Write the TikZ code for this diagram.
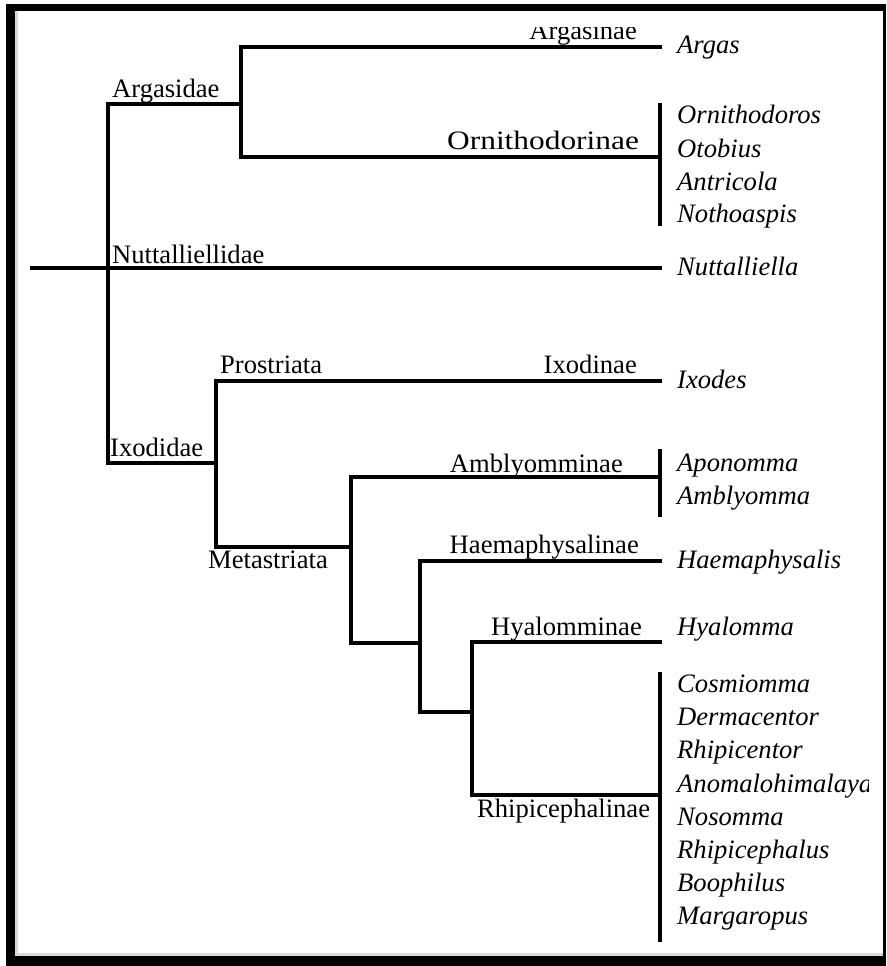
\documentclass[tikz,border=0pt]{standalone}
\usepackage{fontspec}
\setmainfont{Liberation Serif}
\begin{document}
\begin{tikzpicture}[x=1pt,y=-1pt,
  branch/.style={line width=4pt, line join=miter, line cap=rect},
  genbar/.style={line width=4pt},
  clade/.style={inner sep=0pt, font=\fontsize{26.6}{32}\selectfont},
  genus/.style={inner sep=0pt, anchor=base west, font=\fontsize{26.6}{32}\selectfont\itshape}]
\useasboundingbox (0,0) rectangle (886,966);
\fill[white] (0,0) rectangle (886,966);

% frame with a heavier shadow edge on the left and bottom
\fill[black] (6,4) rectangle (886,966);
\fill[white] (15,11) rectangle (883,956);
\fill[gray!30] (15,11) rectangle (18,956);
\fill[gray!30] (15,953) rectangle (883,956);

\begin{scope}
\clip (18,28) rectangle (868,953);

% branch points of the tree
\coordinate (root) at (32,268);
\coordinate (nutEnd) at (660,268);
\coordinate (famTop) at (108,104);
\coordinate (famBot) at (108,463);
\coordinate (argTop) at (241,47);
\coordinate (argMid) at (241,104);
\coordinate (argBot) at (241,157);
\coordinate (argasEnd) at (660,47);
\coordinate (ornEnd) at (660,157);
\coordinate (ornBarTop) at (660,103);
\coordinate (ornBarBot) at (660,226);
\coordinate (ixoTop) at (216,381);
\coordinate (ixoMid) at (216,463);
\coordinate (ixoBot) at (216,547);
\coordinate (ixodesEnd) at (660,381);
\coordinate (metTop) at (351,477);
\coordinate (metMid) at (351,547);
\coordinate (metBot) at (351,643);
\coordinate (ambEnd) at (660,477);
\coordinate (ambBarTop) at (660,449);
\coordinate (ambBarBot) at (660,517);
\coordinate (haeTop) at (420,561);
\coordinate (haeMid) at (420,643);
\coordinate (haeBot) at (420,712);
\coordinate (haeEnd) at (660,561);
\coordinate (hyaTop) at (472,642);
\coordinate (hyaMid) at (472,712);
\coordinate (hyaBot) at (472,795);
\coordinate (hyaEnd) at (660,642);
\coordinate (rhiEnd) at (660,795);
\coordinate (rhiBarTop) at (660,672);
\coordinate (rhiBarBot) at (660,942);

% branches
\draw[branch] (root) -- (nutEnd);
\draw[branch] (famTop) -- (famBot);
\draw[branch] (famTop) -- (argMid);
\draw[branch] (argasEnd) -- (argTop) -- (argBot) -- (ornEnd);
\draw[genbar] (ornBarTop) -- (ornBarBot);
\draw[branch] (famBot) -- (ixoMid);
\draw[branch] (ixodesEnd) -- (ixoTop) -- (ixoBot) -- (metMid);
\draw[branch] (ambEnd) -- (metTop) -- (metBot) -- (haeMid);
\draw[genbar] (ambBarTop) -- (ambBarBot);
\draw[branch] (haeEnd) -- (haeTop) -- (haeBot) -- (hyaMid);
\draw[branch] (hyaEnd) -- (hyaTop) -- (hyaBot) -- (rhiEnd);
\draw[genbar] (rhiBarTop) -- (rhiBarBot);

% clade labels
\node[clade, anchor=base west] (argasidae) at (112,97) {Argasidae};
\node[clade, anchor=base west] (nuttalliellidae) at (112,263) {Nuttalliellidae};
\node[clade, anchor=base east] (argasinae) at (637,40) {Argasinae};
\node[clade, anchor=base west] (ornithodorinae) at (447,149) {\scalebox{1.18}[1]{Ornithodorinae}};
\node[clade, anchor=base west] (prostriata) at (220,373) {Prostriata};
\node[clade, anchor=base east] (ixodinae) at (637,373) {Ixodinae};
\node[clade, anchor=base west] (ixodidae) at (110,456) {Ixodidae};
\node[clade, anchor=base west] (metastriata) at (208,568) {Metastriata};
\node[clade, anchor=base east] (amblyomminae) at (623,472) {Amblyomminae};
\node[clade, anchor=base east] (haemaphysalinae) at (639,553) {Haemaphysalinae};
\node[clade, anchor=base east] (hyalomminae) at (642,635) {Hyalomminae};
\node[clade, anchor=base west] (rhipicephalinae) at (477,817) {Rhipicephalinae};

% genera
\node[genus] (argas) at (677,53) {Argas};
\node[genus] (ornithodoros) at (677,123) {Ornithodoros};
\node[genus] (otobius) at (677,157) {Otobius};
\node[genus] (antricola) at (677,190) {Antricola};
\node[genus] (nothoaspis) at (677,222) {Nothoaspis};
\node[genus] (nuttalliella) at (677,275) {Nuttalliella};
\node[genus] (ixodes) at (677,388) {Ixodes};
\node[genus] (aponomma) at (677,471) {Aponomma};
\node[genus] (amblyomma) at (677,504) {Amblyomma};
\node[genus] (haemaphysalis) at (677,568) {Haemaphysalis};
\node[genus] (hyalomma) at (677,635) {Hyalomma};
\node[genus] (cosmiomma) at (677,692) {Cosmiomma};
\node[genus] (dermacentor) at (677,725) {Dermacentor};
\node[genus] (rhipicentor) at (677,758) {Rhipicentor};
\node[genus] (anomalohimalaya) at (677,792) {Anomalohimalaya};
\node[genus] (nosomma) at (677,825) {Nosomma};
\node[genus] (rhipicephalus) at (677,858) {Rhipicephalus};
\node[genus] (boophilus) at (677,891) {Boophilus};
\node[genus] (margaropus) at (677,924) {Margaropus};
\end{scope}
\end{tikzpicture}
\end{document}
